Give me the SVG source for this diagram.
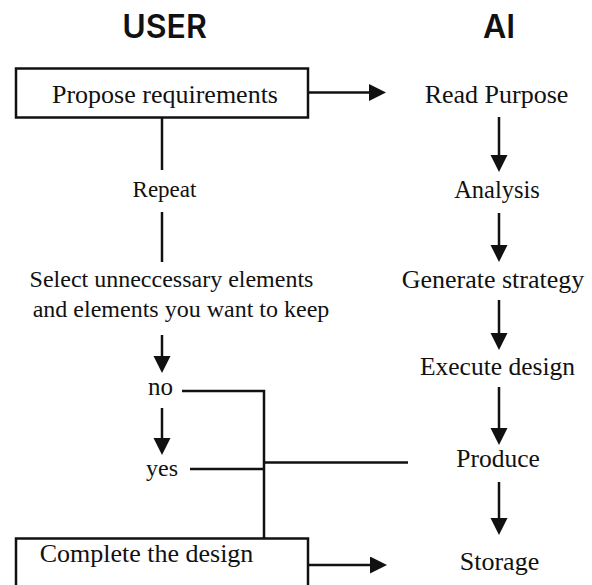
<svg xmlns="http://www.w3.org/2000/svg" width="592" height="585" viewBox="0 0 592 585">
  <style>
    .hdr { font-family: Inter, "Liberation Sans", sans-serif; font-weight: 600; font-size: 32px; fill: #111; text-anchor: middle; }
    .lbl { font-family: "Liberation Serif", "Times New Roman", serif; font-size: 26px; fill: #111; text-anchor: middle; }
    .sm { font-size: 24px; }
    .box { fill: #fff; stroke: #111; stroke-width: 2.5; }
    .ln { fill: none; stroke: #111; stroke-width: 2.5; }
  </style>
  <defs>
    <marker id="arr" markerUnits="userSpaceOnUse" markerWidth="18" markerHeight="18" refX="9" refY="8.5" orient="auto">
      <path d="M0,0 L17,8.5 L0,17 z" fill="#111"/>
    </marker>
  </defs>
  <rect width="592" height="585" fill="#fff"/>

  <g id="headers">
    <text class="hdr" x="164.5" y="38">USER</text>
    <text class="hdr" x="499" y="38">AI</text>
  </g>

  <g id="connectors">
    <line class="ln" x1="309" y1="92.5" x2="378" y2="92.5" marker-end="url(#arr)"/>
    <line class="ln" x1="162" y1="118" x2="162" y2="170"/>
    <line class="ln" x1="162" y1="212" x2="162" y2="262"/>
    <line class="ln" x1="162" y1="335" x2="162" y2="365" marker-end="url(#arr)"/>
    <line class="ln" x1="162" y1="408" x2="162" y2="447" marker-end="url(#arr)"/>
    <polyline class="ln" points="182,391 264,391 264,538"/>
    <line class="ln" x1="190" y1="469" x2="264" y2="469"/>
    <line class="ln" x1="264" y1="462.5" x2="408" y2="462.5"/>
    <line class="ln" x1="308" y1="565" x2="379" y2="565" marker-end="url(#arr)"/>
    <line class="ln" x1="499" y1="117" x2="499" y2="164" marker-end="url(#arr)"/>
    <line class="ln" x1="499" y1="213" x2="499" y2="254" marker-end="url(#arr)"/>
    <line class="ln" x1="499" y1="300" x2="499" y2="342" marker-end="url(#arr)"/>
    <line class="ln" x1="499" y1="387" x2="499" y2="437" marker-end="url(#arr)"/>
    <line class="ln" x1="499" y1="482" x2="499" y2="527" marker-end="url(#arr)"/>
  </g>

  <g id="propose">
    <rect class="box" x="16" y="68.5" width="292" height="49"/>
    <text class="lbl" x="165" y="103">Propose requirements</text>
  </g>
  <g id="repeat">
    <text class="lbl" x="164.5" y="197" style="font-size:23px">Repeat</text>
  </g>
  <g id="select">
    <text class="lbl sm" x="171.5" y="287">Select unneccessary elements</text>
    <text class="lbl sm" x="181" y="317">and elements you want to keep</text>
  </g>
  <g id="no">
    <text class="lbl" x="160.5" y="395" style="font-size:25px">no</text>
  </g>
  <g id="yes">
    <text class="lbl sm" x="162" y="476">yes</text>
  </g>
  <g id="complete">
    <rect class="box" x="16" y="538.5" width="292" height="60"/>
    <text class="lbl" x="146.5" y="562">Complete the design</text>
  </g>

  <g id="read-purpose">
    <text class="lbl" x="496.5" y="103">Read Purpose</text>
  </g>
  <g id="analysis">
    <text class="lbl" x="497" y="198" style="font-size:24.5px">Analysis</text>
  </g>
  <g id="generate">
    <text class="lbl" x="493" y="288">Generate strategy</text>
  </g>
  <g id="execute">
    <text class="lbl" x="497.5" y="375" style="font-size:25.5px">Execute design</text>
  </g>
  <g id="produce">
    <text class="lbl" x="498" y="467" style="font-size:25.5px">Produce</text>
  </g>
  <g id="storage">
    <text class="lbl" x="499.5" y="570">Storage</text>
  </g>
</svg>
